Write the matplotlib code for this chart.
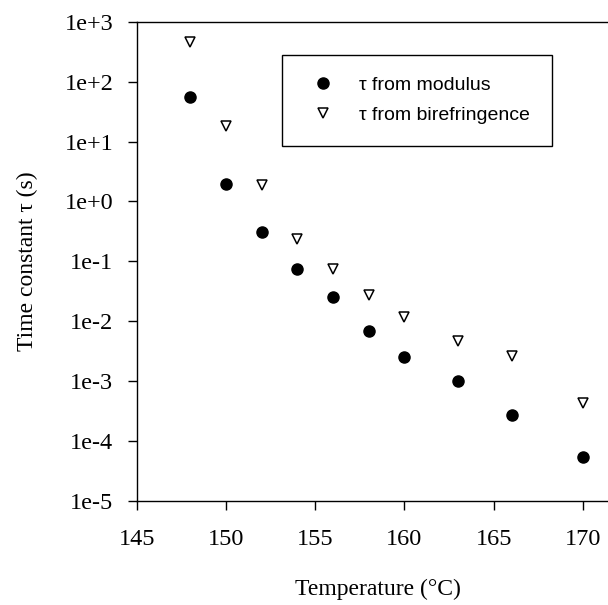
import matplotlib
matplotlib.use("Agg")
import matplotlib.pyplot as plt

# relaxation times vs temperature
temp_modulus = [148, 150, 152, 154, 156, 158, 160, 163, 166, 170]
tau_modulus = [55, 1.97, 0.31, 0.076, 0.025, 0.0068, 0.0025, 0.001, 2.7e-4, 5.5e-5]

temp_biref = [148, 150, 152, 154, 156, 158, 160, 163, 166, 170]
tau_biref = [457, 18.3, 1.9, 0.236, 0.076, 0.027, 0.012, 0.0046, 0.0026, 4.3e-4]

x_ticks = [145, 150, 155, 160, 165, 170]
y_ticks = [1e-5, 1e-4, 1e-3, 1e-2, 1e-1, 1e0, 1e1, 1e2, 1e3]
y_ticklabels = ["1e-5", "1e-4", "1e-3", "1e-2", "1e-1", "1e+0", "1e+1", "1e+2", "1e+3"]

serif = "Liberation Serif"
sans = "Liberation Sans"

fig = plt.figure(figsize=(6.08, 6.05), dpi=100)
ax = fig.add_axes([0.2248, 0.1719, 0.7927, 0.7922])

ax.plot(temp_modulus, tau_modulus, linestyle="none", marker="o", markersize=8,
        color="black", label="τ from modulus")
ax.plot(temp_biref, tau_biref, linestyle="none", marker="v", markersize=7,
        markerfacecolor="white", markeredgecolor="black", markeredgewidth=1.1,
        label="τ from birefringence")

ax.set_yscale("log")
ax.set_xlim(145, 172)
ax.set_ylim(1e-5, 1e3)
ax.set_xticks(x_ticks)
ax.set_xticklabels([str(t) for t in x_ticks], fontfamily=serif, fontsize=17.5)
ax.set_yticks(y_ticks)
ax.set_yticklabels(y_ticklabels, fontfamily=serif, fontsize=17.5)
ax.yaxis.set_minor_locator(matplotlib.ticker.NullLocator())

ax.tick_params(axis="both", direction="out", length=6.8, width=1, color="black")
ax.tick_params(axis="x", pad=13)
ax.tick_params(axis="y", pad=10)
for side in ["left", "bottom", "top", "right"]:
    ax.spines[side].set_linewidth(1)

ax.set_xlabel("Temperature (°C)", fontfamily=serif, fontsize=17, labelpad=21)
ax.set_ylabel("Time constant τ (s)", fontfamily=serif, fontsize=17, labelpad=19)

leg = fig.legend(loc="upper left", bbox_to_anchor=(281.7 / 608, 1 - 55 / 605),
                 bbox_transform=fig.transFigure, borderaxespad=0,
                 prop={"family": sans, "size": 14}, fancybox=False,
                 edgecolor="black", framealpha=1, borderpad=1.1,
                 handletextpad=0.9, labelspacing=0.65, handlelength=2.0)
leg.get_frame().set_linewidth(1)

fig.savefig("out.png", dpi=100)
